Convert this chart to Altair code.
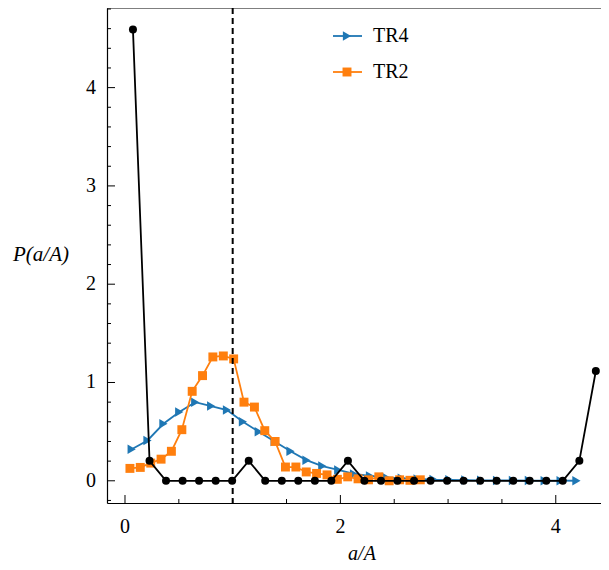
import altair as alt
import pandas as pd

# ---- data ----
black_x = [0.074, 0.228, 0.381, 0.535, 0.688, 0.842, 0.995, 1.149, 1.302, 1.456,
           1.609, 1.763, 1.916, 2.070, 2.223, 2.377, 2.530, 2.684, 2.837, 2.991,
           3.144, 3.298, 3.451, 3.605, 3.758, 3.912, 4.065, 4.219, 4.372]
black_y = [4.59, 0.203, 0.0, 0.0, 0.0, 0.0, 0.0, 0.203, 0.0, 0.0,
           0.0, 0.0, 0.0, 0.203, 0.0, 0.0, 0.0, 0.0, 0.0, 0.0,
           0.0, 0.0, 0.0, 0.0, 0.0, 0.0, 0.0, 0.203, 1.117]

tr4_x = [0.062, 0.209, 0.357, 0.504, 0.652, 0.800, 0.947, 1.095, 1.242, 1.390,
         1.537, 1.685, 1.832, 1.980, 2.127, 2.275, 2.422, 2.570, 2.717, 2.865,
         3.012, 3.160, 3.307, 3.455, 3.602, 3.750, 3.897, 4.045, 4.192]
tr4_y = [0.32, 0.41, 0.58, 0.70, 0.80, 0.76, 0.72, 0.60, 0.50, 0.40,
         0.30, 0.21, 0.15, 0.11, 0.07, 0.05, 0.035, 0.025, 0.018, 0.012,
         0.010, 0.007, 0.005, 0.004, 0.003, 0.002, 0.001, 0.001, 0.0005]

tr2_x = [0.046, 0.142, 0.239, 0.335, 0.431, 0.528, 0.624, 0.720, 0.816, 0.913,
         1.009, 1.105, 1.202, 1.298, 1.394, 1.490, 1.587, 1.683, 1.779, 1.876,
         1.972, 2.068, 2.164, 2.261, 2.357, 2.453, 2.550, 2.646, 2.742]
tr2_y = [0.126, 0.136, 0.18, 0.22, 0.30, 0.52, 0.91, 1.07, 1.26, 1.27,
         1.24, 0.80, 0.75, 0.51, 0.40, 0.14, 0.14, 0.09, 0.075, 0.06,
         0.015, 0.04, 0.02, 0.01, 0.04, 0.0, 0.01, 0.005, 0.01]

x_major = [0, 2, 4]
x_major_labels = ["0", "2", "4"]
x_minor = [0.5, 1.0, 1.5, 2.5, 3.0, 3.5]
y_major = [0, 1, 2, 3, 4]
y_major_labels = ["0", "1", "2", "3", "4"]
y_minor = [-0.2, 0.2, 0.4, 0.6, 0.8, 1.2, 1.4, 1.6, 1.8, 2.2, 2.4, 2.6, 2.8,
           3.2, 3.4, 3.6, 3.8, 4.2, 4.4, 4.6, 4.8]
vline_x = [1.0]
legend_labels = ["TR4", "TR2"]
x_title = "a/A"
y_title = "P(a/A)"

# ---- layout ----
W, H = 494, 495
FONT = "Liberation Serif, Times New Roman, serif"
BLUE, ORANGE = "#1f77b4", "#ff7f0e"

xs = alt.Scale(domain=[-0.167, 4.42], nice=False, zero=False)
ys = alt.Scale(domain=[-0.226, 4.81], nice=False, zero=False)

df_black = pd.DataFrame({"x": black_x, "y": black_y})
df_tr4 = pd.DataFrame({"x": tr4_x, "y": tr4_y})
df_tr2 = pd.DataFrame({"x": tr2_x, "y": tr2_y})

x_axis = alt.Axis(values=x_major, ticks=False, labels=False, grid=False, title=None,
                  domainColor="black", domainWidth=1.2)
y_axis = alt.Axis(values=y_major, ticks=False, labels=False, grid=False, title=None,
                  domainColor="black", domainWidth=1.2)


def xenc():
    return alt.X("x:Q", scale=xs, axis=x_axis)


def yenc():
    return alt.Y("y:Q", scale=ys, axis=y_axis)


tr4_line = alt.Chart(df_tr4).mark_line(color=BLUE, strokeWidth=1.8).encode(x=xenc(), y=yenc())
tr4_pts = alt.Chart(df_tr4).mark_point(shape="triangle-right", filled=True, color=BLUE,
                                       size=90, opacity=1).encode(x=xenc(), y=yenc())
tr2_line = alt.Chart(df_tr2).mark_line(color=ORANGE, strokeWidth=1.8).encode(x=xenc(), y=yenc())
tr2_pts = alt.Chart(df_tr2).mark_point(shape="square", filled=True, color=ORANGE,
                                       size=80, opacity=1).encode(x=xenc(), y=yenc())
blk_line = alt.Chart(df_black).mark_line(color="black", strokeWidth=1.8).encode(x=xenc(), y=yenc())
blk_pts = alt.Chart(df_black).mark_point(shape="circle", filled=True, color="black",
                                         size=64, opacity=1).encode(x=xenc(), y=yenc())

vline = alt.Chart(pd.DataFrame({"x": vline_x})).mark_rule(
    color="black", strokeWidth=2, strokeDash=[6, 4]).encode(x=xenc())

# spines / ticks
top_spine = alt.Chart(pd.DataFrame({"x": [0]})).mark_rule(color="black", strokeWidth=1.2).encode(
    x=alt.value(0), x2=alt.value(W), y=alt.value(0))
xt_major = alt.Chart(pd.DataFrame({"x": x_major})).mark_rule(color="black", strokeWidth=1).encode(
    x=xenc(), y=alt.value(H), y2=alt.value(H - 8))
xt_minor = alt.Chart(pd.DataFrame({"x": x_minor})).mark_rule(color="black", strokeWidth=1).encode(
    x=xenc(), y=alt.value(H), y2=alt.value(H - 4))
yt_major = alt.Chart(pd.DataFrame({"y": y_major})).mark_rule(color="black", strokeWidth=1).encode(
    y=yenc(), x=alt.value(0), x2=alt.value(8))
yt_minor = alt.Chart(pd.DataFrame({"y": y_minor})).mark_rule(color="black", strokeWidth=1).encode(
    y=yenc(), x=alt.value(0), x2=alt.value(4))

# tick labels and titles as text marks (serif font)
x_lab = alt.Chart(pd.DataFrame({"x": x_major, "t": x_major_labels})).mark_text(
    font=FONT, fontSize=20, color="black", align="center", baseline="middle").encode(
    x=xenc(), y=alt.value(H + 24), text="t:N")
y_lab = alt.Chart(pd.DataFrame({"y": y_major, "t": y_major_labels})).mark_text(
    font=FONT, fontSize=20, color="black", align="right", baseline="middle").encode(
    y=yenc(), x=alt.value(-11), text="t:N")
x_tit = alt.Chart(pd.DataFrame({"t": [x_title]})).mark_text(
    font=FONT, fontSize=20, fontStyle="italic", color="black", align="center",
    baseline="middle").encode(x=alt.value(255), y=alt.value(H + 51), text="t:N")
y_tit = alt.Chart(pd.DataFrame({"t": [y_title]})).mark_text(
    font=FONT, fontSize=21, fontStyle="italic", color="black", align="center",
    baseline="middle").encode(x=alt.value(-66), y=alt.value(247), text="t:N")

# manual legend
legend_layers = []
for label, color, shape, size, ly in [(legend_labels[0], BLUE, "triangle-right", 90, 28),
                                      (legend_labels[1], ORANGE, "square", 80, 64)]:
    d = pd.DataFrame({"label": [label]})
    legend_layers.append(alt.Chart(d).mark_rule(color=color, strokeWidth=1.8).encode(
        x=alt.value(226), x2=alt.value(255), y=alt.value(ly)))
    legend_layers.append(alt.Chart(d).mark_point(shape=shape, filled=True, color=color, size=size,
                                                 opacity=1).encode(x=alt.value(240), y=alt.value(ly)))
    legend_layers.append(alt.Chart(d).mark_text(align="left", baseline="middle", font=FONT,
                                                fontSize=20, color="black").encode(
        x=alt.value(266), y=alt.value(ly), text="label:N"))

chart = alt.layer(
    tr4_line, tr4_pts, tr2_line, tr2_pts, blk_line, blk_pts, vline,
    top_spine, xt_major, xt_minor, yt_major, yt_minor,
    x_lab, y_lab, x_tit, y_tit, *legend_layers
).properties(
    width=W, height=H,
    autosize=alt.AutoSizeParams(type="none"),
    padding={"left": 99, "top": 0, "right": 0, "bottom": 64},
    background="white",
).configure_view(stroke=None)

chart.save("out.html", embed_options={"renderer": "svg", "actions": False})
